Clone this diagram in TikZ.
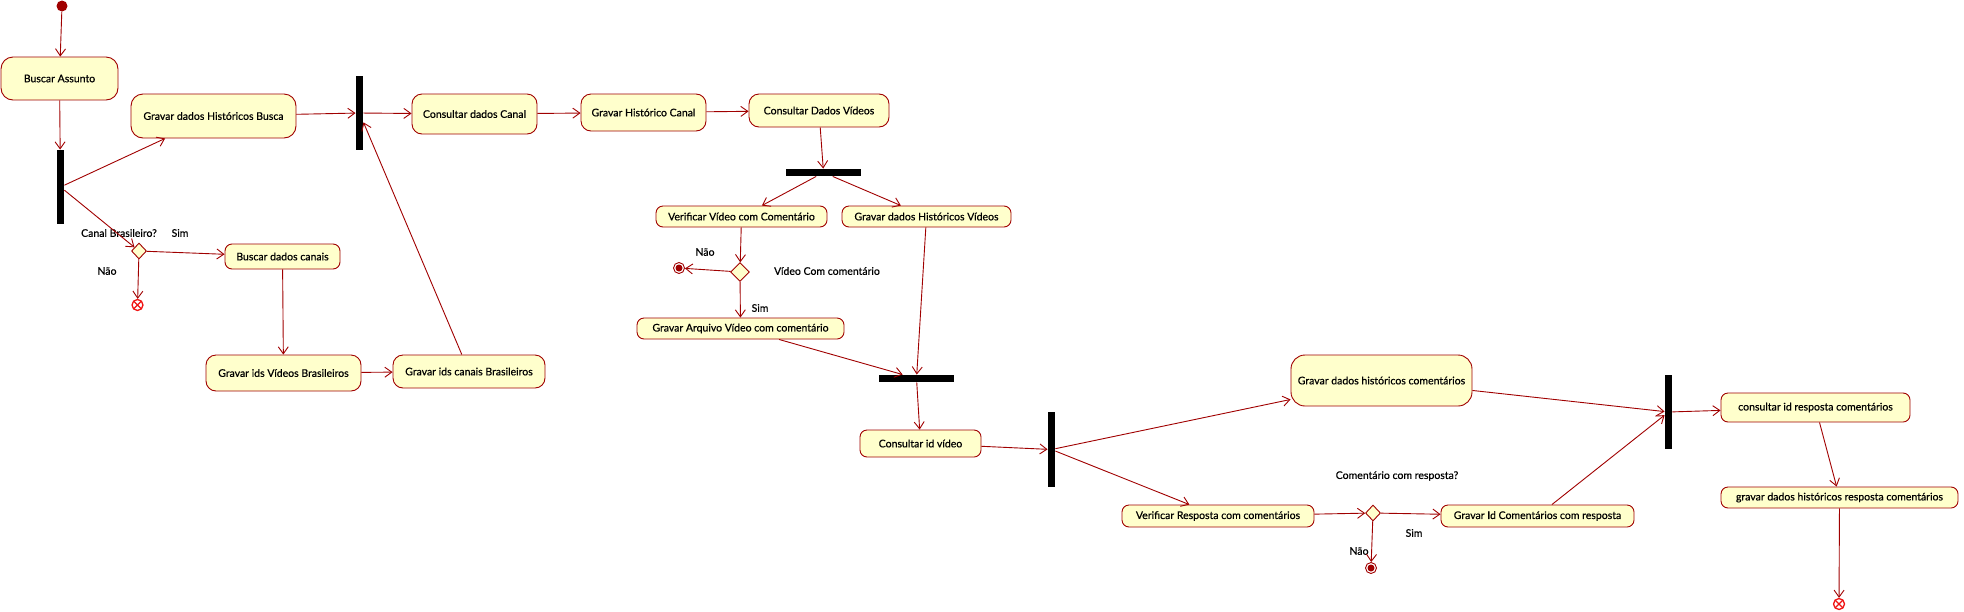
\documentclass[tikz,border=0pt]{standalone}
\usepackage{fontspec}
\setmainfont{Lato}
\newfontfamily\umlfont{Lato}[FakeBold=0.5]
\usetikzlibrary{shapes.geometric, arrows.meta}
\definecolor{linered}{RGB}{160,0,0}
\definecolor{boxfill}{RGB}{255,255,204}
\definecolor{endred}{RGB}{240,20,20}

\begin{document}
\begin{tikzpicture}[x=1pt, y=-1pt, line width=0.9pt,
        action/.style={draw=linered, fill=boxfill, rounded corners=7pt, inner sep=0pt,
            font=\umlfont\fontsize{10.5}{12}\selectfont},
        bar/.style={fill=black, inner sep=0pt},
        choice/.style={diamond, draw=linered, fill=boxfill, inner sep=0pt,
            minimum width=15pt, minimum height=16pt},
        guard/.style={inner sep=0pt, font=\umlfont\fontsize{10.5}{12}\selectfont},
        flow/.style={draw=linered, -{Straight Barb[length=7pt, width=10pt]}},
        initial/.style={circle, fill=linered, minimum size=11pt, inner sep=0pt},
        actend/.style={circle, draw=linered, fill=white, minimum size=11pt, inner sep=0pt,
            path picture={\fill[linered] (path picture bounding box.center) circle (3.5pt);}},
        flowend/.style={circle, draw=endred, line width=1.3pt, fill=white, minimum size=11pt, inner sep=0pt,
            path picture={\draw[endred, line width=1.3pt]
                (path picture bounding box.south west) -- (path picture bounding box.north east)
                (path picture bounding box.north west) -- (path picture bounding box.south east);}}]
        \useasboundingbox (0, 0) rectangle (1964, 611);

        % Busca
        \node[initial] (start) at (62, 6) {};
        \node[action, rounded corners=12pt, minimum width=117pt, minimum height=43pt] (buscar) at (59.5, 78.5) {Buscar Assunto};
        \node[bar, minimum width=7pt, minimum height=74pt] (fork1) at (60.5, 187) {};
        \node[action, rounded corners=12pt, minimum width=165pt, minimum height=44pt] (gravarBusca) at (213.5, 116) {Gravar dados Históricos Busca};
        \node[choice] (canalBr) at (139, 251) {};
        \node[guard] at (119, 233) {Canal Brasileiro?};
        \node[guard] at (180, 233) {Sim};
        \node[guard] at (107, 271) {Não};
        \node[flowend] (fim1) at (137.5, 305) {};
        \node[action, minimum width=115pt, minimum height=25pt] (buscarCanais) at (282.5, 256.5) {Buscar dados canais};
        \node[action, rounded corners=10pt, minimum width=155pt, minimum height=36pt] (gravarVideosBr) at (283.5, 373) {Gravar ids Vídeos Brasileiros};
        \node[action, rounded corners=10pt, minimum width=152pt, minimum height=33pt] (gravarCanaisBr) at (469, 371.5) {Gravar ids canais Brasileiros};

        % Canal
        \node[bar, minimum width=7pt, minimum height=74pt] (join1) at (359.5, 113) {};
        \node[action, rounded corners=10pt, minimum width=125pt, minimum height=40pt] (consultarCanal) at (474.5, 114) {Consultar dados Canal};
        \node[action, rounded corners=10pt, minimum width=125pt, minimum height=37pt] (gravarCanal) at (643.5, 112.5) {Gravar Histórico Canal};

        % Videos
        \node[action, rounded corners=10pt, minimum width=140pt, minimum height=33pt] (consultarVideos) at (819, 110.5) {Consultar Dados Vídeos};
        \node[bar, minimum width=75pt, minimum height=7pt] (fork2) at (823.5, 172.5) {};
        \node[action, minimum width=171pt, minimum height=21pt] (verificarVideo) at (741.5, 216.5) {Verificar Vídeo com Comentário};
        \node[action, minimum width=169pt, minimum height=21pt] (gravarVideos) at (926.5, 216.5) {Gravar dados Históricos Vídeos};
        \node[choice, minimum width=19pt, minimum height=19pt] (comComent) at (740, 272) {};
        \node[guard] at (705, 252) {Não};
        \node[guard] at (827, 271) {Vídeo Com comentário};
        \node[guard] at (760, 308) {Sim};
        \node[actend] (fim2) at (679, 268) {};
        \node[action, minimum width=207pt, minimum height=21pt] (gravarArquivo) at (740.5, 328.5) {Gravar Arquivo Vídeo com comentário};
        \node[bar, minimum width=75pt, minimum height=7pt] (join2) at (916.5, 378.5) {};

        % Comentarios
        \node[action, minimum width=121pt, minimum height=27pt] (consultarId) at (920.5, 443.5) {Consultar id vídeo};
        \node[bar, minimum width=7pt, minimum height=75pt] (fork3) at (1051.5, 449.5) {};
        \node[action, rounded corners=14pt, minimum width=181pt, minimum height=51pt] (gravarComent) at (1381.5, 380.5) {Gravar dados históricos comentários};
        \node[action, minimum width=192pt, minimum height=22pt] (verificarResp) at (1218, 516) {Verificar Resposta com comentários};
        \node[choice] (comResp) at (1373, 513) {};
        \node[guard] at (1397, 476) {Comentário com resposta?};
        \node[guard] at (1414, 533) {Sim};
        \node[guard] at (1359, 551) {Não};
        \node[actend] (fim3) at (1371, 568) {};
        \node[action, minimum width=193pt, minimum height=22pt] (gravarIdComent) at (1537.5, 516) {Gravar Id Comentários com resposta};
        \node[bar, minimum width=7pt, minimum height=74pt] (join3) at (1668.5, 412) {};
        \node[action, minimum width=189pt, minimum height=29pt] (consultarResp) at (1815.5, 407.5) {consultar id resposta comentários};
        \node[action, minimum width=237pt, minimum height=21pt] (gravarResp) at (1839.5, 497.5) {gravar dados históricos resposta comentários};
        \node[flowend] (fim4) at (1839, 604) {};

        % Fluxos
        \draw[flow] (start) -- (buscar);
        \draw[flow] (buscar) -- (fork1);
        \draw[flow] (fork1) -- (gravarBusca);
        \draw[flow] (fork1) -- (canalBr);
        \draw[flow] (canalBr) -- (buscarCanais);
        \draw[flow] (canalBr) -- (fim1);
        \draw[flow] (buscarCanais) -- (gravarVideosBr);
        \draw[flow] (gravarVideosBr) -- (gravarCanaisBr);
        \draw[flow] (gravarCanaisBr) -- (join1);
        \draw[flow] (gravarBusca) -- (join1);
        \draw[flow] (join1) -- (consultarCanal);
        \draw[flow] (consultarCanal) -- (gravarCanal);
        \draw[flow] (gravarCanal) -- (consultarVideos);
        \draw[flow] (consultarVideos) -- (fork2);
        \draw[flow] (fork2) -- (verificarVideo);
        \draw[flow] (fork2) -- (gravarVideos);
        \draw[flow] (verificarVideo) -- (comComent);
        \draw[flow] (comComent) -- (fim2);
        \draw[flow] (comComent) -- (gravarArquivo);
        \draw[flow] (gravarArquivo) -- (join2);
        \draw[flow] (gravarVideos) -- (join2);
        \draw[flow] (join2) -- (consultarId);
        \draw[flow] (consultarId) -- (fork3);
        \draw[flow] (fork3) -- (gravarComent);
        \draw[flow] (fork3) -- (verificarResp);
        \draw[flow] (verificarResp) -- (comResp);
        \draw[flow] (comResp) -- (gravarIdComent);
        \draw[flow] (comResp) -- (fim3);
        \draw[flow] (gravarComent) -- (join3);
        \draw[flow] (gravarIdComent) -- (join3);
        \draw[flow] (join3) -- (consultarResp);
        \draw[flow] (consultarResp) -- (gravarResp);
        \draw[flow] (gravarResp) -- (fim4);
    \end{tikzpicture}
\end{document}
